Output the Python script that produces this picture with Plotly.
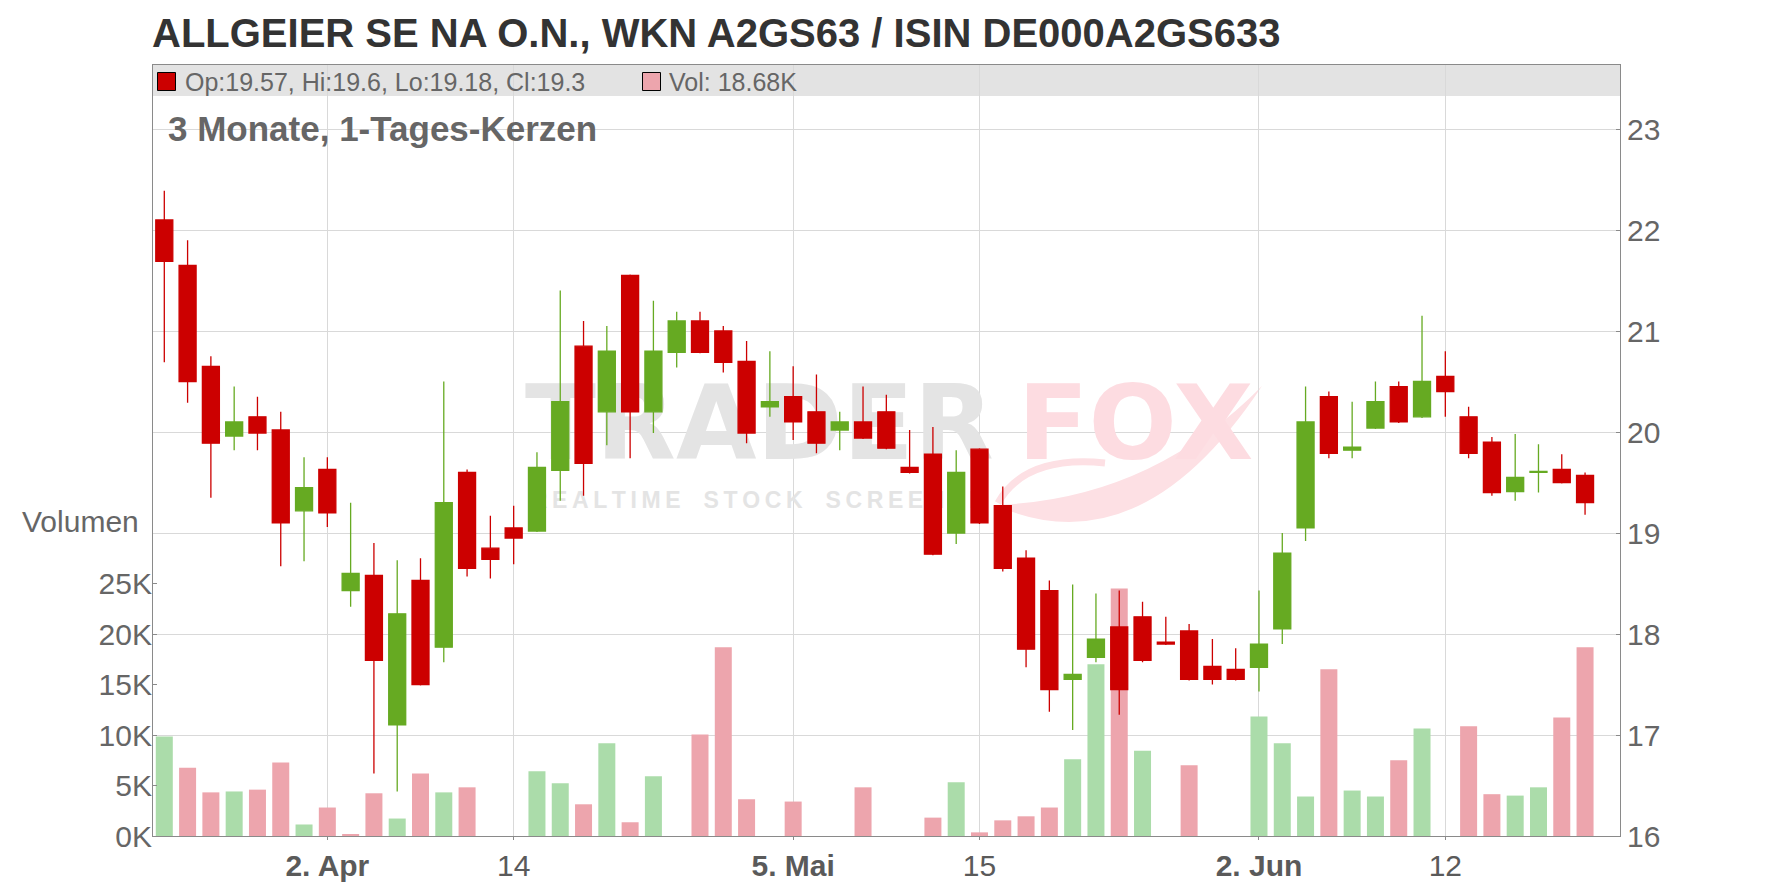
import plotly.graph_objects as go

# ---------------- data ----------------
dates = [
    "2025-03-24", "2025-03-25", "2025-03-26", "2025-03-27", "2025-03-28", "2025-03-31",
    "2025-04-01", "2025-04-02", "2025-04-03", "2025-04-04", "2025-04-07", "2025-04-08",
    "2025-04-09", "2025-04-10", "2025-04-11", "2025-04-14", "2025-04-15", "2025-04-16",
    "2025-04-17", "2025-04-22", "2025-04-23", "2025-04-24", "2025-04-25", "2025-04-28",
    "2025-04-29", "2025-04-30", "2025-05-02", "2025-05-05", "2025-05-06", "2025-05-07",
    "2025-05-08", "2025-05-09", "2025-05-12", "2025-05-13", "2025-05-14", "2025-05-15",
    "2025-05-16", "2025-05-19", "2025-05-20", "2025-05-21", "2025-05-22", "2025-05-23",
    "2025-05-26", "2025-05-27", "2025-05-28", "2025-05-29", "2025-05-30", "2025-06-02",
    "2025-06-03", "2025-06-04", "2025-06-05", "2025-06-06", "2025-06-09", "2025-06-10",
    "2025-06-11", "2025-06-12", "2025-06-13", "2025-06-16", "2025-06-17", "2025-06-18",
    "2025-06-19", "2025-06-20",
]
opens = [
    22.10, 21.65, 20.65, 19.96, 20.15, 20.02, 19.22, 19.63, 18.43, 18.58, 17.10, 18.53,
    17.87, 19.60, 18.85, 19.05, 19.02, 19.62, 20.85, 20.20, 21.55, 20.20, 20.79, 21.10,
    21.00, 20.70, 20.25, 20.35, 20.20, 20.02, 20.10, 20.20, 19.65, 19.78, 19.00, 19.83,
    19.27, 18.75, 18.43, 17.55, 17.77, 18.07, 18.17, 17.92, 18.03, 17.68, 17.65, 17.67,
    18.05, 19.05, 20.35, 19.82, 20.04, 20.45, 20.15, 20.55, 20.15, 19.90, 19.41, 19.60,
    19.63, 19.57,
]
highs = [
    22.39, 21.90, 20.75, 20.45, 20.35, 20.20, 19.75, 19.75, 19.30, 18.90, 18.73, 18.75,
    20.50, 19.63, 19.17, 19.27, 19.80, 21.40, 21.10, 21.05, 21.56, 21.30, 21.19, 21.19,
    21.05, 20.90, 20.80, 20.65, 20.57, 20.20, 20.45, 20.37, 20.02, 20.05, 19.82, 19.84,
    19.46, 18.83, 18.53, 18.49, 18.40, 18.43, 18.32, 18.17, 18.10, 17.95, 17.86, 18.43,
    19.00, 20.45, 20.40, 20.30, 20.50, 20.50, 21.15, 20.80, 20.25, 19.95, 19.98, 19.88,
    19.78, 19.60,
]
lows = [
    20.69, 20.29, 19.35, 19.82, 19.82, 18.67, 18.72, 19.06, 18.27, 16.62, 16.44, 17.49,
    17.72, 18.57, 18.55, 18.69, 19.01, 19.32, 19.37, 19.87, 19.74, 19.99, 20.64, 20.78,
    20.59, 19.89, 20.15, 19.92, 19.79, 19.82, 19.93, 19.83, 19.59, 18.78, 18.89, 19.09,
    18.62, 17.67, 17.23, 17.05, 17.72, 17.20, 17.72, 17.89, 17.54, 17.50, 17.54, 17.43,
    17.90, 18.92, 19.74, 19.74, 20.03, 20.09, 20.14, 20.15, 19.74, 19.37, 19.32, 19.40,
    19.49, 19.18,
]
closes = [
    21.69, 20.50, 19.89, 20.10, 19.99, 19.10, 19.45, 19.20, 18.60, 17.74, 18.20, 17.50,
    19.30, 18.65, 18.74, 18.95, 19.65, 20.30, 19.69, 20.80, 20.20, 20.80, 21.10, 20.79,
    20.69, 19.99, 20.30, 20.10, 19.89, 20.10, 19.94, 19.84, 19.60, 18.79, 19.60, 19.10,
    18.65, 17.85, 17.45, 17.60, 17.95, 17.45, 17.74, 17.90, 17.55, 17.55, 17.55, 17.90,
    18.80, 20.10, 19.79, 19.85, 20.30, 20.10, 20.50, 20.40, 19.79, 19.40, 19.55, 19.61,
    19.50, 19.30,
]
volumes = [
    9860, 6770, 4320, 4410, 4590, 7270, 1140, 2820, 180, 4230, 1730, 6180,
    4320, 4820, 0, 0, 6410, 5230, 3140, 9180, 1360, 5910, 0, 10050,
    18680, 3640, 0, 3410, 0, 0, 4820, 0, 0, 1820, 5320, 360,
    1550, 1950, 2820, 7590, 17000, 24500, 8450, 0, 7000, 0, 0, 11820,
    9180, 3910, 16500, 4500, 3910, 7500, 10640, 0, 10860, 4140, 4000, 4820,
    11730, 18680,
]

tick_dates = ["2025-04-02", "2025-04-14", "2025-05-05", "2025-05-15", "2025-06-02", "2025-06-12"]
tick_labels = ["<b>2. Apr</b>", "14", "<b>5. Mai</b>", "15", "<b>2. Jun</b>", "12"]
price_ticks = [16, 17, 18, 19, 20, 21, 22, 23]
vol_ticks = [0, 5000, 10000, 15000, 20000, 25000]
vol_tick_labels = ["0K", "5K", "10K", "15K", "20K", "25K"]

title_text = "ALLGEIER SE NA O.N., WKN A2GS63 / ISIN DE000A2GS633"
subtitle_text = "3 Monate, 1-Tages-Kerzen"
volume_label = "Volumen"
wm_word1, wm_word2 = "TRADER", "FOX"
wm_tagline = ["REALTIME", "STOCK", "SCREENER"]

# ---------------- style ----------------
UP = "#66aa22"
DOWN = "#cc0000"
VOL_UP = "#abdcaa"
VOL_DOWN = "#eda5ad"
GRID = "#d9d9d9"
FRAME = "#8a8a8a"
TXT = "#666666"
FONT = "Liberation Sans, Arial, sans-serif"

W, H = 1776, 888
OFF = 8  # page body margin
ML, MR, MT, MB = 145, 164, 57, 60
PW, PH = W - ML - MR, H - MT - MB


def px_x(X):
    return (X - OFF - ML) / PW


def px_y(Y):
    return (OFF + H - MB - Y) / PH


x = list(range(len(dates)))
tickvals = [dates.index(d) for d in tick_dates]

vol_colors = []
for i, c in enumerate(closes):
    if i == 0 or c >= closes[i - 1]:
        vol_colors.append(VOL_UP)
    else:
        vol_colors.append(VOL_DOWN)

price_range = [16, 23.634]
vol_range = [0, (price_range[1] - price_range[0]) * 10000]
x_range = [-0.485, 62.50]

fig = go.Figure()

# watermark (base subplot, drawn first, below volume and candles)
fig.add_trace(go.Scatter(
    x=[25.55], y=[19.995], mode="text", text=[wm_word1],
    textfont=dict(family="DejaVu Sans", size=104, color="#e4e4e4", weight="bold"),
    hoverinfo="skip", showlegend=False, yaxis="y", cliponaxis=False))
fig.add_trace(go.Scatter(
    x=[41.7], y=[19.995], mode="text", text=[wm_word2],
    textfont=dict(family="DejaVu Sans", size=104, color="#fddce1", weight="bold"),
    hoverinfo="skip", showlegend=False, yaxis="y", cliponaxis=False))
fig.add_trace(go.Scatter(
    x=[25.5], y=[19.30], mode="text",
    text=["\u2009".join(wm_tagline[0]) + "\u2003"
          + "\u2009".join(wm_tagline[1]) + "\u2003"
          + "\u2009".join(wm_tagline[2])],
    textfont=dict(family="Liberation Sans", size=23, color="#e4e4e4", weight="bold"),
    hoverinfo="skip", showlegend=False, yaxis="y", cliponaxis=False))

# volume bars
fig.add_trace(go.Bar(
    x=x, y=volumes, marker=dict(color=vol_colors, line=dict(width=0)),
    width=0.73, yaxis="y2", hoverinfo="skip", showlegend=False))

# candles
fig.add_trace(go.Candlestick(
    x=x, open=opens, high=highs, low=lows, close=closes, yaxis="y3",
    increasing=dict(line=dict(color=UP, width=1.3), fillcolor=UP),
    decreasing=dict(line=dict(color=DOWN, width=1.3), fillcolor=DOWN),
    whiskerwidth=0, hoverinfo="skip", showlegend=False))


def pt(X, Y):
    return f"{px_x(X):.5f},{px_y(Y):.5f}"


swoosh = (f"M {pt(995, 505)} Q {pt(1140, 570)} {pt(1262, 386)} "
          f"Q {pt(1150, 500)} {pt(995, 505)} Z")
curl = f"M {pt(998, 503)} Q {pt(1025, 455)} {pt(1105, 463)}"

shapes = [
    dict(type="path", xref="paper", yref="paper", path=swoosh,
         fillcolor="#fde0e4", line=dict(width=0), layer="below"),
    dict(type="path", xref="paper", yref="paper", path=curl,
         line=dict(color="#fde0e4", width=7), layer="below"),
    # header band
    dict(type="rect", xref="paper", yref="paper", x0=0, x1=1, y0=px_y(96), y1=1,
         fillcolor="#e3e3e3", line=dict(width=0), layer="below"),
    # legend squares
    dict(type="rect", xref="paper", yref="paper", x0=px_x(157.5), x1=px_x(175.5),
         y0=px_y(90.5), y1=px_y(72.5), fillcolor=DOWN, line=dict(color="#000", width=1)),
    dict(type="rect", xref="paper", yref="paper", x0=px_x(642.5), x1=px_x(660.5),
         y0=px_y(90.5), y1=px_y(72.5), fillcolor=VOL_DOWN, line=dict(color="#000", width=1)),
]

annotations = [
    dict(text=f"<b>{title_text}</b>", xref="paper", yref="paper", x=px_x(150), y=px_y(33),
         xanchor="left", yanchor="middle", showarrow=False,
         font=dict(family=FONT, size=40, color="#333333")),
    dict(text=f"<b>{subtitle_text}</b>", xref="paper", yref="paper", x=px_x(166), y=px_y(128.5),
         xanchor="left", yanchor="middle", showarrow=False,
         font=dict(family=FONT, size=35, color=TXT)),
    dict(text=f"Op:{opens[-1]}, Hi:{highs[-1]}, Lo:{lows[-1]}, Cl:{closes[-1]}",
         xref="paper", yref="paper", x=px_x(183), y=px_y(81.5),
         xanchor="left", yanchor="middle", showarrow=False,
         font=dict(family=FONT, size=25, color=TXT)),
    dict(text=f"Vol: {volumes[-1] / 1000:.2f}K",
         xref="paper", yref="paper", x=px_x(667), y=px_y(81.5),
         xanchor="left", yanchor="middle", showarrow=False,
         font=dict(family=FONT, size=25, color=TXT)),
    dict(text=volume_label, xref="paper", yref="paper", x=px_x(141), y=px_y(521),
         xanchor="right", yanchor="middle", showarrow=False,
         font=dict(family=FONT, size=30, color=TXT)),
]

fig.update_layout(
    width=W, height=H,
    margin=dict(l=ML, r=MR, t=MT, b=MB, pad=0),
    paper_bgcolor="white", plot_bgcolor="white",
    font=dict(family=FONT, color=TXT),
    boxgap=0.27, boxgroupgap=0,
    bargap=0.27,
    showlegend=False,
    shapes=shapes,
    annotations=annotations,
    xaxis=dict(
        range=x_range, tickmode="array", tickvals=tickvals, ticktext=tick_labels,
        showgrid=True, gridcolor=GRID, gridwidth=1,
        showline=True, linecolor=FRAME, linewidth=1, mirror=True,
        ticks="outside", ticklen=3, tickcolor=FRAME,
        tickfont=dict(family=FONT, size=30, color="#5a5a5a"),
        rangeslider=dict(visible=False), zeroline=False,
    ),
    yaxis=dict(
        range=price_range, side="right", tickmode="array", tickvals=price_ticks,
        showgrid=True, gridcolor=GRID, gridwidth=1,
        showline=True, linecolor=FRAME, linewidth=1, mirror=True,
        ticks="inside", ticklen=4, tickcolor=FRAME,
        tickfont=dict(family=FONT, size=30, color=TXT), zeroline=False,
    ),
    yaxis2=dict(
        range=vol_range, side="left", overlaying="y", tickmode="array",
        tickvals=vol_ticks, ticktext=vol_tick_labels, showgrid=False,
        ticks="inside", ticklen=4, tickcolor=FRAME,
        tickfont=dict(family=FONT, size=30, color=TXT), zeroline=False, showline=False,
    ),
    yaxis3=dict(range=price_range, overlaying="y", visible=False, showgrid=False),
)

fig.write_html("out.html")
